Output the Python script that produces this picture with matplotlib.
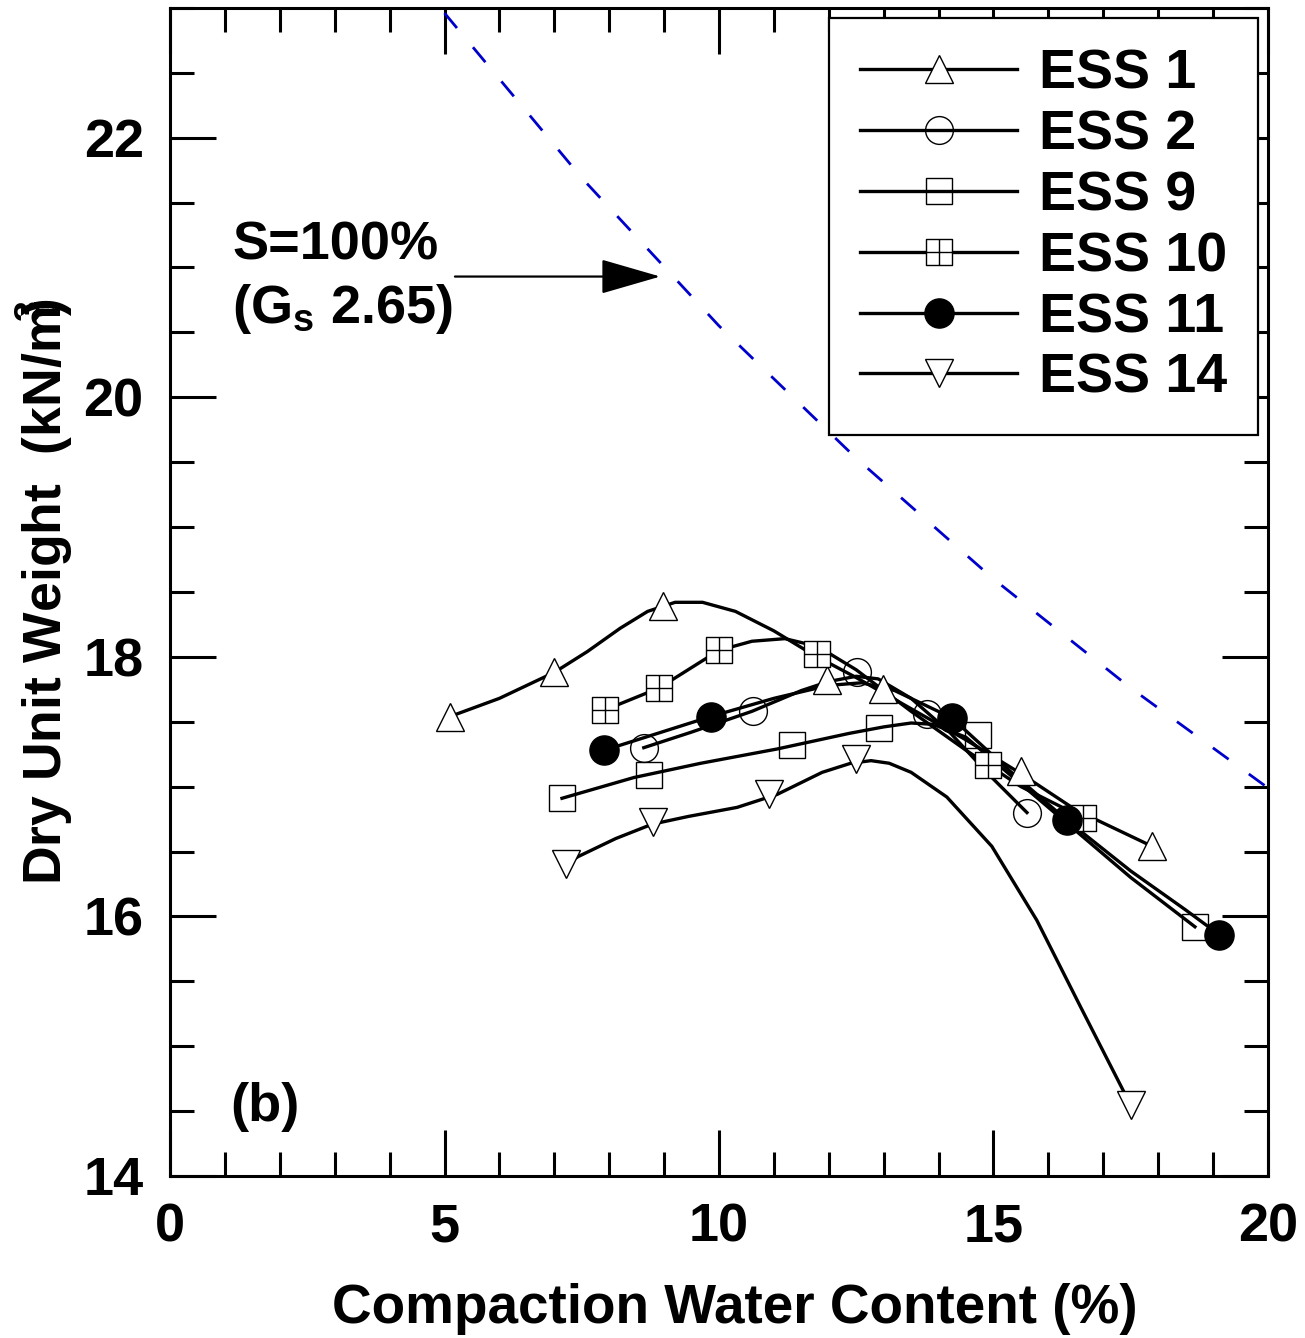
import numpy as np
import matplotlib
matplotlib.use('Agg')
import matplotlib.pyplot as plt
from matplotlib.path import Path
from matplotlib.lines import Line2D

plt.rcParams['font.family'] = 'Liberation Sans'
plt.rcParams['font.weight'] = 'bold'
plt.rcParams['axes.labelweight'] = 'bold'
plt.rcParams['mathtext.fontset'] = 'custom'
plt.rcParams['mathtext.rm'] = 'Liberation Sans:bold'
plt.rcParams['mathtext.bf'] = 'Liberation Sans:bold'
plt.rcParams['mathtext.it'] = 'Liberation Sans:bold'

# measured points (water content %, dry unit weight kN/m3)
ess1_w = [5.10, 6.99, 8.98, 11.97, 12.99, 15.50, 17.89]
ess1_g = [17.54, 17.88, 18.39, 17.82, 17.75, 17.12, 16.54]
ess2_w = [8.63, 10.62, 12.51, 13.79, 15.61]
ess2_g = [17.30, 17.58, 17.88, 17.56, 16.80]
ess9_w = [7.14, 8.72, 11.33, 12.91, 14.72, 18.67]
ess9_g = [16.91, 17.09, 17.32, 17.45, 17.40, 15.92]
ess10_w = [7.92, 8.91, 10.00, 11.79, 14.90, 16.63]
ess10_g = [17.59, 17.76, 18.05, 18.02, 17.17, 16.76]
ess11_w = [7.91, 9.85, 14.24, 16.34, 19.11]
ess11_g = [17.28, 17.54, 17.53, 16.74, 15.86]
ess14_w = [7.21, 8.80, 10.91, 12.50, 17.50]
ess14_g = [16.40, 16.73, 16.94, 17.21, 14.55]

# fitted curves
fit1_w = [5.10, 6.0, 7.0, 7.6, 8.2, 8.7, 9.2, 9.7, 10.3, 11.0, 11.7, 12.5, 13.5, 14.5, 15.5, 16.5, 17.89]
fit1_g = [17.54, 17.68, 17.88, 18.04, 18.22, 18.35, 18.42, 18.42, 18.35, 18.20, 18.02, 17.84, 17.60, 17.36, 17.10, 16.82, 16.54]
fit2_w = [8.63, 9.5, 10.6, 11.5, 12.0, 12.5, 12.9, 13.5, 14.2, 14.9, 15.61]
fit2_g = [17.30, 17.42, 17.58, 17.74, 17.81, 17.85, 17.83, 17.68, 17.42, 17.10, 16.80]
fit9_w = [7.14, 8.45, 9.67, 11.06, 12.37, 13.00, 13.50, 13.90, 14.50, 15.50, 16.50, 17.50, 18.67]
fit9_g = [16.91, 17.07, 17.18, 17.29, 17.41, 17.46, 17.49, 17.48, 17.38, 17.02, 16.66, 16.30, 15.92]
fit10_w = [7.92, 8.91, 10.00, 10.60, 11.20, 11.80, 12.50, 13.50, 14.50, 15.50, 16.63]
fit10_g = [17.59, 17.76, 18.05, 18.12, 18.14, 18.08, 17.90, 17.58, 17.28, 17.00, 16.76]
fit11_w = [7.91, 9.85, 11.00, 12.00, 12.60, 13.20, 14.24, 15.30, 16.34, 17.50, 18.50, 19.11]
fit11_g = [17.28, 17.54, 17.68, 17.78, 17.80, 17.74, 17.53, 17.12, 16.74, 16.35, 16.05, 15.86]
fit14_w = [7.21, 7.43, 8.12, 8.78, 9.44, 10.33, 11.06, 11.88, 12.40, 12.77, 13.10, 13.50, 14.15, 14.97, 15.79, 16.59, 17.41, 17.50]
fit14_g = [16.40, 16.46, 16.60, 16.71, 16.77, 16.84, 16.94, 17.11, 17.18, 17.20, 17.18, 17.11, 16.92, 16.54, 15.97, 15.30, 14.62, 14.55]

# zero air voids line (S=100%, Gs 2.65)
zav_w = [5.0, 7.5, 10.0, 12.5, 15.0, 17.5, 20.0]
zav_g = [22.96, 21.69, 20.55, 19.53, 18.60, 17.76, 16.99]

labels = ['ESS 1', 'ESS 2', 'ESS 9', 'ESS 10', 'ESS 11', 'ESS 14']

# square with a cross inside
grid_sq = Path([(-1, -1), (1, -1), (1, 1), (-1, 1), (-1, -1), (0, -1), (0, 1), (-1, 0), (1, 0)],
               [Path.MOVETO, Path.LINETO, Path.LINETO, Path.LINETO, Path.CLOSEPOLY,
                Path.MOVETO, Path.LINETO, Path.MOVETO, Path.LINETO])

styles = [
    dict(marker='^', markersize=20, mfc='white'),
    dict(marker='o', markersize=20, mfc='none'),
    dict(marker='s', markersize=19, mfc='none'),
    dict(marker=grid_sq, markersize=19, mfc='white'),
    dict(marker='o', markersize=21, mfc='black'),
    dict(marker='v', markersize=20, mfc='white'),
]

fig = plt.figure(figsize=(13.05, 13.38), dpi=100)
ax = fig.add_axes((0.1303, 0.1211, 0.8413, 0.873))

ax.plot(zav_w, zav_g, color='#0000cc', lw=2.0, dashes=(7, 9))

fits = [(fit1_w, fit1_g), (fit2_w, fit2_g), (fit9_w, fit9_g),
        (fit10_w, fit10_g), (fit11_w, fit11_g), (fit14_w, fit14_g)]
pts = [(ess1_w, ess1_g), (ess2_w, ess2_g), (ess9_w, ess9_g),
       (ess10_w, ess10_g), (ess11_w, ess11_g), (ess14_w, ess14_g)]

for (fw, fg) in fits:
    ax.plot(fw, fg, color='black', lw=2.4, zorder=2)
for (pw, pg), st in zip(pts, styles):
    ax.plot(pw, pg, linestyle='none', mec='black', mew=1.0, zorder=3, **st)

handles = [Line2D([], [], color='black', lw=2.4, mec='black', mew=1.0, **st) for st in styles]
leg = ax.legend(handles, labels, loc='upper right', bbox_to_anchor=(0.991, 0.9914),
                borderaxespad=0, fontsize=40, handlelength=2.83, handletextpad=0.4,
                borderpad=0.55, labelspacing=0.16, fancybox=False, framealpha=1,
                edgecolor='black')
leg.get_frame().set_linewidth(1.6)

ax.text(1.13, 21.06, 'S=100%', fontsize=39, ha='left', va='baseline')
ax.text(1.13, 20.57, r'(G$_{\mathregular{s}}$ 2.65)', fontsize=39, ha='left', va='baseline')
ax.annotate('', xy=(8.93, 20.93), xytext=(5.19, 20.93),
            arrowprops=dict(arrowstyle='-|>,head_length=1.9,head_width=0.55',
                            mutation_scale=20, color='black', lw=1.6, shrinkA=0, shrinkB=0))
ax.text(1.73, 14.53, '(b)', fontsize=39, ha='center', va='center')

ax.set_xlim(0, 20)
ax.set_ylim(14, 23)
ax.set_xticks(np.arange(0, 21, 5))
ax.set_xticks(np.arange(0, 21, 1), minor=True)
ax.set_yticks(np.arange(14, 23, 2))
ax.set_yticks(np.arange(14, 23.01, 0.5), minor=True)
ax.tick_params(which='both', direction='in', top=True, right=True, width=2.2, labelsize=39)
ax.tick_params(which='major', length=33)
ax.tick_params(which='minor', length=17)
ax.tick_params(axis='both', pad=19)
for s in ax.spines.values():
    s.set_linewidth(2.2)

ax.set_xlabel('Compaction Water Content (%)', fontsize=39.5, labelpad=22)
ax.xaxis.label.set_x(0.514)
ax.set_ylabel(r'Dry Unit Weight  (kN/m$^{\!\!\!3}\!\!$)', fontsize=38.5, labelpad=6)

fig.savefig('out.png', dpi=100)
